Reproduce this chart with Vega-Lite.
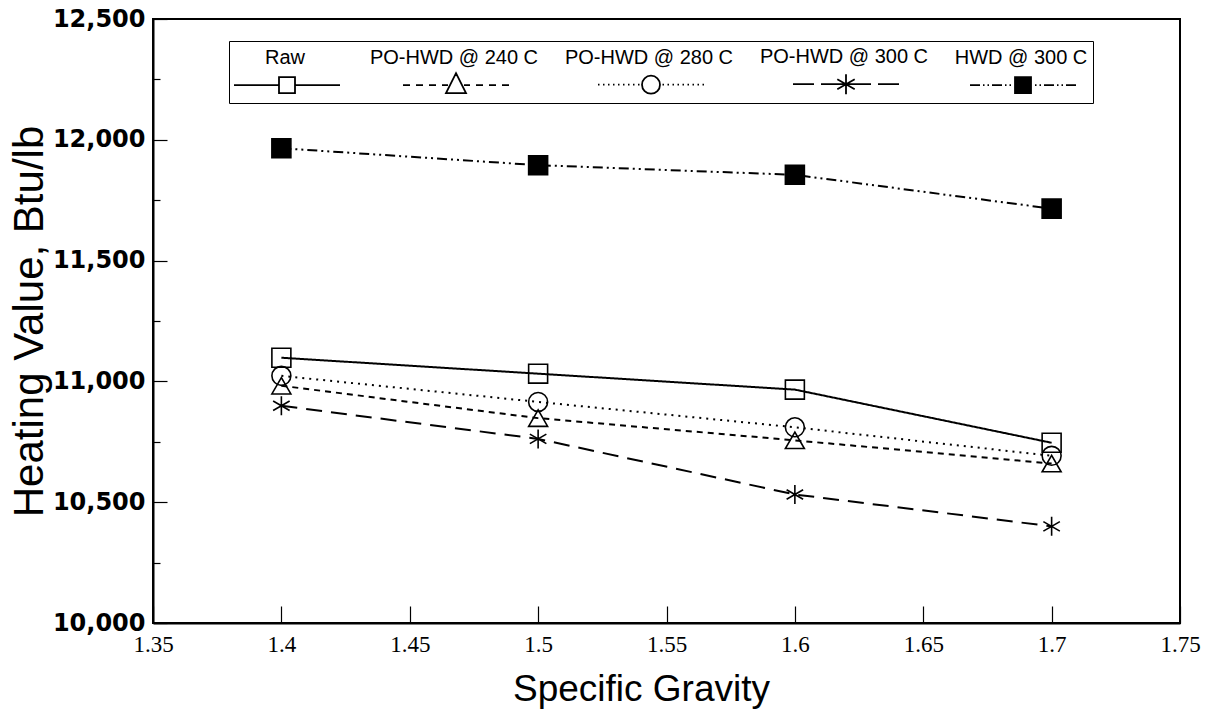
{
  "$schema": "https://vega.github.io/schema/vega-lite/v6.json",
  "width": 1027,
  "height": 604,
  "autosize": {"type": "none"},
  "padding": {"left": 153, "top": 19, "right": 33, "bottom": 95},
  "background": "white",
  "config": {
    "view": {"stroke": "black", "strokeWidth": 2},
    "font": "Liberation Sans"
  },
  "data": {
    "values": [
      {"series": "Raw", "sg": 1.4, "hv": 11098},
      {"series": "Raw", "sg": 1.5, "hv": 11032},
      {"series": "Raw", "sg": 1.6, "hv": 10966},
      {"series": "Raw", "sg": 1.7, "hv": 10746},
      {"series": "PO-HWD @ 240 C", "sg": 1.4, "hv": 10982},
      {"series": "PO-HWD @ 240 C", "sg": 1.5, "hv": 10848},
      {"series": "PO-HWD @ 240 C", "sg": 1.6, "hv": 10756},
      {"series": "PO-HWD @ 240 C", "sg": 1.7, "hv": 10660},
      {"series": "PO-HWD @ 280 C", "sg": 1.4, "hv": 11023},
      {"series": "PO-HWD @ 280 C", "sg": 1.5, "hv": 10915},
      {"series": "PO-HWD @ 280 C", "sg": 1.6, "hv": 10810},
      {"series": "PO-HWD @ 280 C", "sg": 1.7, "hv": 10692},
      {"series": "PO-HWD @ 300 C", "sg": 1.4, "hv": 10899},
      {"series": "PO-HWD @ 300 C", "sg": 1.5, "hv": 10762},
      {"series": "PO-HWD @ 300 C", "sg": 1.6, "hv": 10532},
      {"series": "PO-HWD @ 300 C", "sg": 1.7, "hv": 10400},
      {"series": "HWD @ 300 C", "sg": 1.4, "hv": 11965},
      {"series": "HWD @ 300 C", "sg": 1.5, "hv": 11895},
      {"series": "HWD @ 300 C", "sg": 1.6, "hv": 11855},
      {"series": "HWD @ 300 C", "sg": 1.7, "hv": 11715}
    ]
  },
  "resolve": {"scale": {"shape": "independent"}},
  "layer": [
    {
      "mark": {"type": "line", "color": "black", "strokeWidth": 2},
      "encoding": {
        "x": {
          "field": "sg", "type": "quantitative",
          "scale": {"domain": [1.35, 1.75], "nice": false, "zero": false},
          "axis": {
            "values": [1.35, 1.4, 1.45, 1.5, 1.55, 1.6, 1.65, 1.7, 1.75],
            "format": ".2~f",
            "grid": false, "labelFlush": false,
            "tickSize": -17, "tickColor": "black", "tickWidth": 1.2,
            "domainColor": "black", "domainWidth": 2,
            "labelFont": "Liberation Sans Narrow", "labelFontSize": 23, "labelColor": "black", "labelPadding": 27,
            "title": "Specific Gravity", "titleFont": "Liberation Sans", "titleFontSize": 37,
            "titleFontWeight": "normal", "titleColor": "black", "titlePadding": 15, "titleX": 488
          }
        },
        "y": {
          "field": "hv", "type": "quantitative",
          "scale": {"domain": [10000, 12500], "nice": false, "zero": false},
          "axis": {
            "values": [10000, 10250, 10500, 10750, 11000, 11250, 11500, 11750, 12000, 12250, 12500],
            "labelExpr": "datum.value % 500 === 0 ? format(datum.value, ',') : ''",
            "grid": false,
            "tickSize": {"condition": {"test": "datum.value % 500 === 0", "value": -14}, "value": -7},
            "tickColor": "black", "tickWidth": 1.2,
            "domainColor": "black", "domainWidth": 2,
            "labelFont": "DejaVu Sans", "labelFontSize": 24, "labelFontWeight": "bold", "labelColor": "black", "labelPadding": 22,
            "title": "Heating Value, Btu/lb", "titleFont": "Liberation Sans", "titleFontSize": 42,
            "titleFontWeight": "normal", "titleColor": "black", "titlePadding": 1
          }
        },
        "detail": {"field": "series"},
        "strokeDash": {
          "field": "series", "type": "nominal",
          "scale": {
            "domain": ["Raw", "PO-HWD @ 240 C", "PO-HWD @ 280 C", "PO-HWD @ 300 C", "HWD @ 300 C"],
            "range": [[1, 0], [6, 5], [2, 5], [16, 9], [10, 4, 2, 4, 2, 4]]
          },
          "legend": null
        }
      }
    },
    {
      "mark": {"type": "point", "filled": true, "stroke": "black", "strokeWidth": 1.6, "size": 360, "opacity": 1},
      "encoding": {
        "x": {"field": "sg", "type": "quantitative"},
        "y": {"field": "hv", "type": "quantitative"},
        "shape": {
          "field": "series", "type": "nominal",
          "scale": {
            "domain": ["Raw", "PO-HWD @ 240 C", "PO-HWD @ 280 C", "PO-HWD @ 300 C", "HWD @ 300 C"],
            "range": ["square", "triangle-up", "circle", "M0,-1V1M-0.87,-0.5L0.87,0.5M-0.87,0.5L0.87,-0.5", "square"]
          },
          "legend": null
        },
        "fill": {
          "field": "series", "type": "nominal",
          "scale": {
            "domain": ["Raw", "PO-HWD @ 240 C", "PO-HWD @ 280 C", "PO-HWD @ 300 C", "HWD @ 300 C"],
            "range": ["transparent", "transparent", "transparent", "transparent", "black"]
          },
          "legend": null
        }
      }
    },
    {
      "transform": [{"filter": "false"}],
      "mark": {"type": "point", "stroke": "black"},
      "encoding": {
        "shape": {
          "field": "series", "type": "nominal",
          "scale": {
            "domain": ["Raw", "PO-HWD @ 240 C", "PO-HWD @ 280 C", "PO-HWD @ 300 C", "HWD @ 300 C"],
            "range": [
              "M-1.1,2.7H3.4M5,2.7H9.5M3.4,1.9H5V3.5H3.4Z",
              "M-1.1,2.7H-0.4M0.2,2.7H0.9M1.5,2.7H2.2M2.8,2.7H3.4M5,2.7H5.6M6.2,2.7H6.9M7.5,2.7H8.2M8.8,2.7H9.5M4.2,1.5L5.2,3.5L3.2,3.5Z",
              "M-1.1,2.7h0.15M-0.6,2.7h0.15M-0.1,2.7h0.15M0.4,2.7h0.15M0.9,2.7h0.15M1.4,2.7h0.15M1.9,2.7h0.15M2.4,2.7h0.15M2.9,2.7h0.15M5.35,2.7h0.15M5.85,2.7h0.15M6.35,2.7h0.15M6.85,2.7h0.15M7.35,2.7h0.15M7.85,2.7h0.15M8.35,2.7h0.15M8.85,2.7h0.15M9.35,2.7h0.15M3.3,2.7A0.9,0.9,0,1,0,5.1,2.7A0.9,0.9,0,1,0,3.3,2.7Z",
              "M-1.1,2.7H1M1.7,2.7H6.7M7.4,2.7H9.5M4.2,1.7V3.7M3.33,2.2L5.07,3.2M3.33,3.2L5.07,2.2",
              "M-1.1,2.7H-0.1M0.2,2.7H0.35M0.65,2.7H0.8M1.1,2.7H2.1M2.4,2.7H2.55M2.85,2.7H3M5.4,2.7H5.55M5.85,2.7H6M6.3,2.7H7.3M7.6,2.7H7.75M8.05,2.7H8.2M8.5,2.7H9.5M3.4,1.9H5V3.5H3.4ZM3.4,2.05H5M3.4,2.2H5M3.4,2.35H5M3.4,2.5H5M3.4,2.65H5M3.4,2.8H5M3.4,2.95H5M3.4,3.1H5M3.4,3.25H5M3.4,3.4H5"
            ]
          },
          "legend": {
            "orient": "none", "legendX": 76, "legendY": 22,
            "direction": "horizontal", "title": null, "gridAlign": "each",
            "symbolSize": 400, "symbolStrokeWidth": 1.8, "symbolStrokeColor": "black",
            "symbolFillColor": "transparent", "symbolOpacity": 1,
            "labelFont": "Liberation Sans", "labelFontSize": 20, "labelColor": "black", "labelLimit": 400,
            "labelOffset": 29, "labelAlign": "center", "labelBaseline": "middle",
            "columnPadding": 25,
            "strokeColor": "black", "fillColor": "white", "padding": 5
          }
        }
      }
    }
  ]
}
